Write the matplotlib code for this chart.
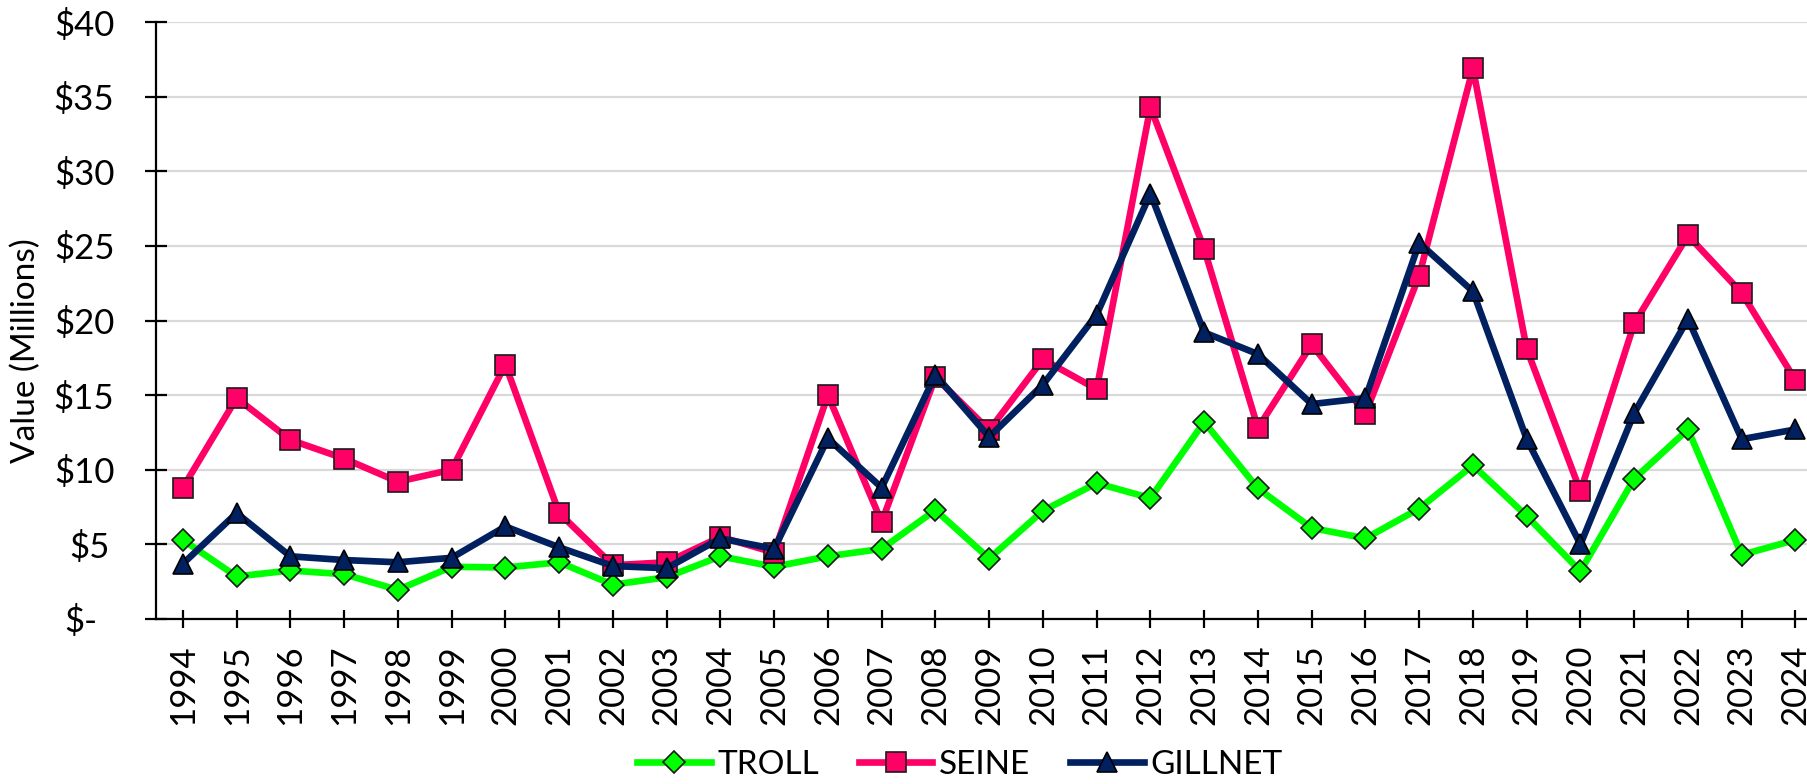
import matplotlib
matplotlib.use("Agg")
import matplotlib.pyplot as plt
from matplotlib.transforms import ScaledTranslation

years = list(range(1994, 2025))
troll = [5.3, 2.85, 3.25, 3.0, 1.95, 3.5, 3.45, 3.8, 2.3, 2.8, 4.2, 3.5, 4.2, 4.7, 7.3, 4.05,
         7.25, 9.1, 8.1, 13.2, 8.75, 6.1, 5.4, 7.4, 10.3, 6.9, 3.2, 9.4, 12.7, 4.3, 5.3]
seine = [8.8, 14.8, 12.0, 10.75, 9.2, 10.0, 17.05, 7.1, 3.6, 3.8, 5.5, 4.45, 15.0, 6.5, 16.2, 12.65,
         17.4, 15.4, 34.3, 24.8, 12.8, 18.4, 13.75, 23.0, 36.9, 18.1, 8.55, 19.8, 25.7, 21.85, 16.0]
gillnet = [3.7, 7.1, 4.2, 3.95, 3.8, 4.1, 6.2, 4.8, 3.55, 3.4, 5.4, 4.7, 12.1, 8.8, 16.35, 12.2,
           15.7, 20.4, 28.5, 19.2, 17.75, 14.4, 14.8, 25.2, 21.95, 12.05, 5.0, 13.8, 20.1, 12.05, 12.7]
y_ticks = [0, 5, 10, 15, 20, 25, 30, 35, 40]
y_labels = ["$-", "$5", "$10", "$15", "$20", "$25", "$30", "$35", "$40"]

plt.rcParams['font.family'] = ['Lato', 'DejaVu Sans']

W, H = 1808, 784
fig = plt.figure(figsize=(W / 100, H / 100), dpi=100)
ax = fig.add_axes([156 / W, 1 - 619 / H, (W - 156) / W, (619 - 22) / H])

x = list(range(len(years)))
ax.plot(x, troll, color='#00FF00', lw=4.8, marker='D', ms=11, mfc='#00FF00', mec='#1a1a1a', mew=1.2,
        label='TROLL', zorder=3)
ax.plot(x, seine, color='#FF0066', lw=4.8, marker='s', ms=14, mfc='#FF0066', mec='#1a1a1a', mew=1.2,
        label='SEINE', zorder=4)
ax.plot(x, gillnet, color='#002060', lw=4.8, marker='^', ms=15, mfc='#002060', mec='#000000', mew=1.2,
        label='GILLNET', zorder=5)

ax.set_xlim(-0.5, 30 + 12.5 / 53.6)
ax.set_ylim(0, 40)
ax.set_xticks(x)
ax.set_xticklabels([str(y) for y in years], rotation=90, fontsize=25)
ax.set_yticks(y_ticks)
ax.set_yticklabels(y_labels, fontsize=25)

ax.grid(axis='y', color='#D9D9D9', lw=1.6, zorder=0)
ax.set_axisbelow(True)
for s in ['top', 'right']:
    ax.spines[s].set_visible(False)
for s in ['left', 'bottom']:
    ax.spines[s].set_linewidth(1.6)
    ax.spines[s].set_color('black')
ax.tick_params(axis='y', direction='inout', length=16, width=1.6, pad=22)
ax.tick_params(axis='x', direction='inout', length=13, width=1.6, pad=12)

offs = {"$5": -5, "$-": -17}
for lab in ax.get_yticklabels():
    d = offs.get(lab.get_text(), 0)
    if d:
        lab.set_transform(lab.get_transform() + ScaledTranslation(d / 100, 0, fig.dpi_scale_trans))

ax.set_ylabel('Value (Millions)', fontsize=24)
ax.yaxis.set_label_coords((41.5 - 156) / (W - 156), 0.45)

fig.legend(loc='center', bbox_to_anchor=(960 / W, 1 - 765 / H), ncol=3, frameon=False,
           fontsize=24, handlelength=2.2, columnspacing=1.2, handletextpad=0.2)

fig.savefig('out.png', dpi=100)
